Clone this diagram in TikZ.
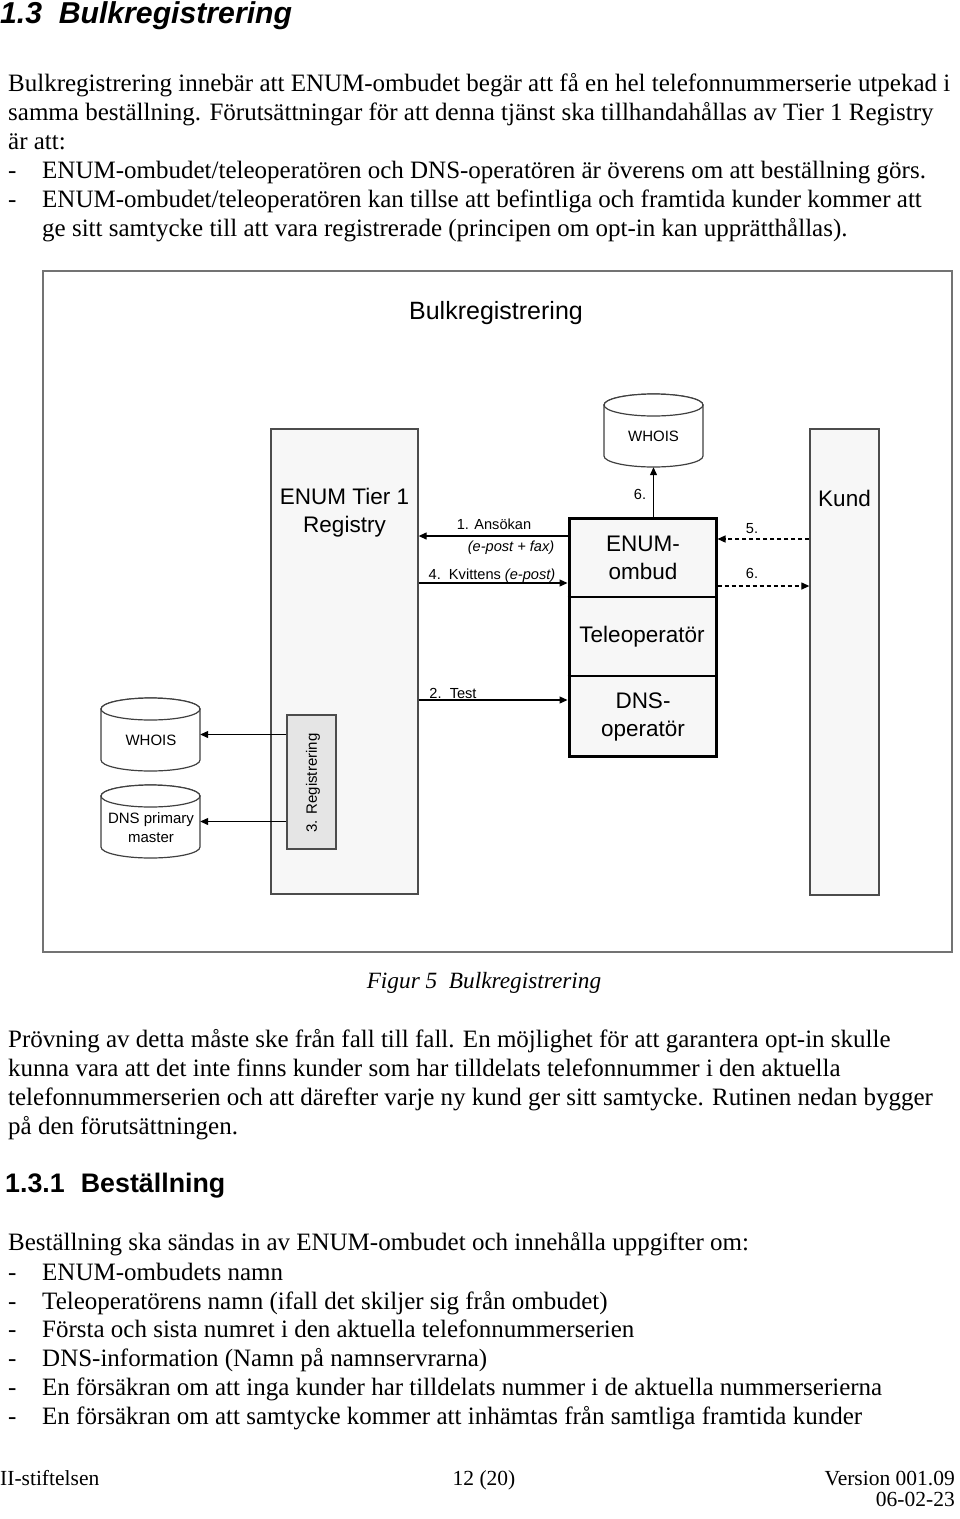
\documentclass[tikz,border=0pt]{standalone}
\usepackage{fontspec}
\setmainfont{Liberation Serif}
\newfontfamily\arial{Liberation Sans}
\usetikzlibrary{arrows.meta,calc}
\begin{document}
\begin{tikzpicture}[x=1pt,y=-1pt,
  body/.style={anchor=base west, inner sep=0, font=\fontsize{25}{29}\selectfont},
  bodyr/.style={anchor=base east, inner sep=0, font=\fontsize{21.5}{24}\selectfont},
  head/.style={anchor=base west, inner sep=0, font=\arial\bfseries\fontsize{26.8}{30}\selectfont},
  box/.style={draw=black!70, line width=1.3pt, fill=black!3, inner sep=0},
  regbox/.style={draw=black!70, line width=1.3pt, fill=black!10, inner sep=0},
  thickbox/.style={draw=black, line width=3pt, fill=black!3, inner sep=0},
  cyl/.style={draw=black!75, line width=1.2pt, fill=white},
  big/.style={font=\arial\fontsize{22.5}{28}\selectfont, align=center, inner sep=0},
  mid/.style={font=\arial\fontsize{15}{19}\selectfont, align=center, inner sep=0},
  small/.style={font=\arial\fontsize{14.6}{17}\selectfont, inner sep=0},
  arr/.style={-{Triangle[length=8pt,width=7pt]}, line width=1.2pt},
  darr/.style={arr, dash pattern=on 4pt off 3pt}]
\useasboundingbox (0,0) rectangle (960,1519);

% ---------- text above ----------
\node[anchor=base west, inner sep=0, font=\arial\bfseries\itshape\fontsize{30.2}{33}\selectfont] (h1) at (0,23) {1.3\hspace{0.55em}Bulkregistrering};
\node[body] (p1) at (8,91) {Bulkregistrering innebär att ENUM-ombudet begär att få en hel telefonnummerserie utpekad i};
\node[body] (p2) at (8,120) {samma beställning. Förutsättningar för att denna tjänst ska tillhandahållas av Tier 1 Registry};
\node[body] (p3) at (8,149) {är att:};
\node[body] (d4) at (8,178) {-};
\node[body] (p4) at (42,178) {ENUM-ombudet/teleoperatören och DNS-operatören är överens om att beställning görs.};
\node[body] (d5) at (8,207) {-};
\node[body] (p5) at (42,207) {ENUM-ombudet/teleoperatören kan tillse att befintliga och framtida kunder kommer att};
\node[body] (p6) at (42,236) {ge sitt samtycke till att vara registrerade (principen om opt-in kan upprätthållas).};

% ---------- diagram ----------
\node[draw=black!55, line width=1.8pt, minimum width=909, minimum height=681, anchor=north west, inner sep=0] (frame) at (42,270) {};
\node[font=\arial\fontsize{25}{28}\selectfont, inner sep=0] (title) at (496,313) {Bulkregistrering};

\node[box, minimum width=147, minimum height=465] (tier) at (344.5,661.5) {};
\node[big] (tiert) at (344.5,513) {ENUM Tier 1\\Registry};

\node[box, minimum width=69, minimum height=466] (kund) at (844.5,662) {};
\node[big] (kundt) at (844.5,498) {Kund};

\node[thickbox, minimum width=147, minimum height=238] (ombud) at (642.5,637) {};
\draw[line width=1.2pt] (ombud.west |- 0,597) -- (ombud.east |- 0,597);
\draw[line width=1.2pt] (ombud.west |- 0,676) -- (ombud.east |- 0,676);
\node[big] (ombudt) at (643,558) {ENUM-\\ombud};
\node[big] (telet) at (642,637) {Teleoperatör};
\node[big] (dnst) at (643,717) {DNS-\\operatör};

\node[regbox, minimum width=49, minimum height=134] (reg) at (311.5,782) {};
\node[mid, rotate=90] (regt) at (313,783) {3. Registrering};

% cylinders
\node[inner sep=0, minimum width=99, minimum height=73] (w1) at (653.5,430.5) {};
\draw[cyl] (604,405) -- (604,456) arc[start angle=180,end angle=0,x radius=49.5,y radius=11] -- (703,405) arc[start angle=0,end angle=-180,x radius=49.5,y radius=11] -- cycle;
\draw[cyl] (653.5,405) ellipse [x radius=49.5,y radius=11];
\node[mid] (w1t) at (653.5,436) {WHOIS};

\node[inner sep=0, minimum width=99, minimum height=73] (w2) at (150.5,734.5) {};
\draw[cyl] (101,709) -- (101,760) arc[start angle=180,end angle=0,x radius=49.5,y radius=11] -- (200,709) arc[start angle=0,end angle=-180,x radius=49.5,y radius=11] -- cycle;
\draw[cyl] (150.5,709) ellipse [x radius=49.5,y radius=11];
\node[mid] (w2t) at (151,740) {WHOIS};

\node[inner sep=0, minimum width=99, minimum height=73] (dns) at (150.5,821.5) {};
\draw[cyl] (101,796) -- (101,847) arc[start angle=180,end angle=0,x radius=49.5,y radius=11] -- (200,796) arc[start angle=0,end angle=-180,x radius=49.5,y radius=11] -- cycle;
\draw[cyl] (150.5,796) ellipse [x radius=49.5,y radius=11];
\node[mid] (dnst2) at (151,828) {DNS primary\\master};

% connectors
\draw[arr] (ombud.west |- 0,536) -- (tier.east |- 0,536);
\node[small] (l1) at (494,524) {1. Ansökan};
\node[small, font=\arial\itshape\fontsize{14.6}{17}\selectfont] (l1b) at (511,548) {(e-post + fax)};
\draw[arr] (tier.east |- 0,583) -- (ombud.west |- 0,583);
\node[small] (l4) at (492,576) {4.\ \ Kvittens \textit{(e-post)}};
\draw[arr] (tier.east |- 0,700) -- (ombud.west |- 0,700);
\node[small] (l2) at (453,693) {2.\ \ Test};
\draw[arr] (w1.south |- ombud.north) -- (w1.south);
\node[small] (l6a) at (640,494) {6.};
\draw[darr] (kund.west |- 0,539) -- (ombud.east |- 0,539);
\node[small] (l5) at (752,529) {5.};
\draw[darr] (ombud.east |- 0,586) -- (kund.west |- 0,586);
\node[small] (l6b) at (752,573) {6.};
\draw[arr] (reg.west |- w2.east) -- (w2.east);
\node[coordinate] (dnsE) at (dns.east) {};
\draw[arr] (reg.west |- dnsE) -- (dnsE);

% ---------- text below ----------
\node[inner sep=0, font=\itshape\fontsize{23.3}{26}\selectfont] (cap) at (484,983) {Figur 5\hspace{0.5em}Bulkregistrering};
\node[body] (q1) at (8,1047) {Prövning av detta måste ske från fall till fall. En möjlighet för att garantera opt-in skulle};
\node[body] (q2) at (8,1076) {kunna vara att det inte finns kunder som har tilldelats telefonnummer i den aktuella};
\node[body] (q3) at (8,1105) {telefonnummerserien och att därefter varje ny kund ger sitt samtycke. Rutinen nedan bygger};
\node[body] (q4) at (8,1134) {på den förutsättningen.};
\node[head] (h2) at (5,1192) {1.3.1\hspace{0.6em}Beställning};
\node[body] (r0) at (8,1250) {Beställning ska sändas in av ENUM-ombudet och innehålla uppgifter om:};
\node[body] (rd1) at (8,1280) {-};
\node[body] (r1) at (42,1280) {ENUM-ombudets namn};
\node[body] (rd2) at (8,1309) {-};
\node[body] (r2) at (42,1309) {Teleoperatörens namn (ifall det skiljer sig från ombudet)};
\node[body] (rd3) at (8,1337) {-};
\node[body] (r3) at (42,1337) {Första och sista numret i den aktuella telefonnummerserien};
\node[body] (rd4) at (8,1366) {-};
\node[body] (r4) at (42,1366) {DNS-information (Namn på namnservrarna)};
\node[body] (rd5) at (8,1395) {-};
\node[body] (r5) at (42,1395) {En försäkran om att inga kunder har tilldelats nummer i de aktuella nummerserierna};
\node[body] (rd6) at (8,1424) {-};
\node[body] (r6) at (42,1424) {En försäkran om att samtycke kommer att inhämtas från samtliga framtida kunder};

\node[anchor=base west, inner sep=0, font=\fontsize{21.5}{24}\selectfont] (f1) at (0,1485) {II-stiftelsen};
\node[anchor=base, inner sep=0, font=\fontsize{21.5}{24}\selectfont] (f2) at (484,1485) {12 (20)};
\node[bodyr] (f3) at (955,1485) {Version 001.09};
\node[bodyr] (f4) at (955,1506) {06-02-23};
\end{tikzpicture}
\end{document}
